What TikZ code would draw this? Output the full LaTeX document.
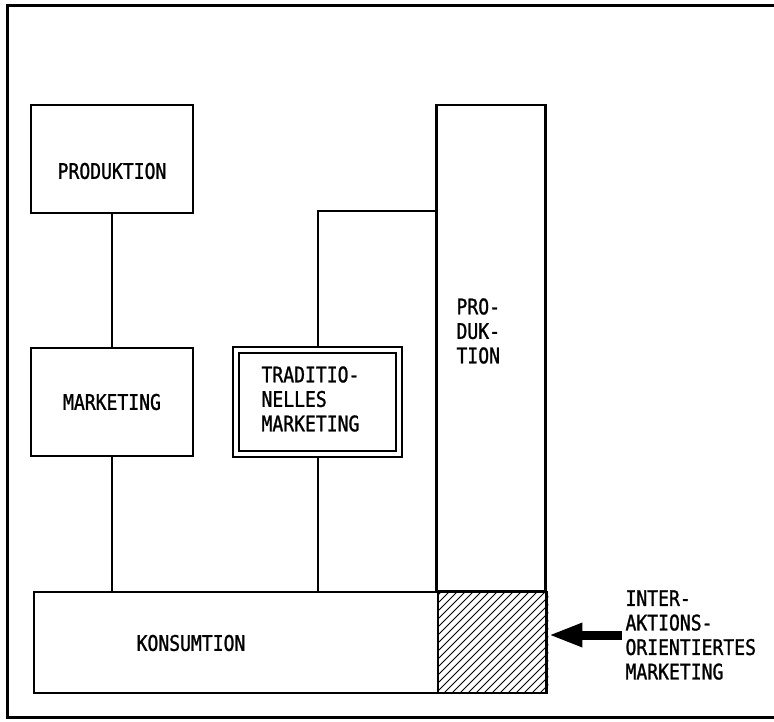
\documentclass[tikz,border=0pt]{standalone}
\usepackage{fontspec}
\newfontfamily\plotfont[FakeStretch=0.84,FakeBold=1.2]{DejaVu Sans Mono}
\usetikzlibrary{arrows.meta,backgrounds}
\begin{document}
\begin{tikzpicture}[x=1pt,y=-1pt,
  every node/.style={font=\plotfont\fontsize{21.5}{24.5}\selectfont},
  box/.style={draw,line width=2.4pt,fill=white,inner sep=0pt},
  link/.style={line width=2pt},
  frame/.style={line width=3pt}]
\useasboundingbox (0,0) rectangle (774,721);
% outer frame (open on the right)
\draw[frame] (774,5) -- (7,5) -- (7,717) -- (774,717);
% boxes
\node[box,minimum width=162pt,minimum height=108pt] (prod) at (112,159) {};
\node at (112,171) {PRODUKTION};
\node[box,minimum width=162pt,minimum height=108pt] (mkt) at (112,402) {MARKETING};
\node[box,minimum width=109pt,minimum height=486pt] (prodtall) at (491,348) {};
\node[align=left,anchor=west] (prodtxt) at (453,331) {PRO-\\DUK-\\TION};
\node[box,anchor=north west,minimum width=512pt,minimum height=101pt] (kons) at (33,591) {};
\node at (191,643) {KONSUMTION};
\node[draw,line width=2pt,double,double distance=3.5pt,fill=white,
      minimum width=163pt,minimum height=104pt,inner sep=0pt] (trad) at (317.5,402) {};
\node[align=left,anchor=west] at (258,399) {TRADITIO-\\NELLES\\MARKETING};
% hatched square
\node[box,fill=none,anchor=north west,minimum width=109pt,minimum height=101pt] (hatch) at (437,591) {};
\begin{scope}
\clip (hatch.south west) rectangle (hatch.north east);
\foreach \i in {-120,-112,...,120}
  \draw[line width=0.9pt] (437+\i,692) -- ++(120,-120);
\end{scope}
\node[box,fill=none,anchor=north west,minimum width=109pt,minimum height=101pt] at (437,591) {};
% label and arrow
\node[align=left,anchor=west] (lab) at (622,635) {INTER-\\AKTIONS-\\ORIENTIERTES\\MARKETING};
\draw[line width=9pt,-{Triangle[length=34pt,width=22pt]}] (lab.west) -- (hatch.east |- lab.west);
% connectors
\coordinate (j) at (317.5,211);
\begin{scope}[on background layer]
\draw[link] (prod) -- (mkt);
\draw[link] (mkt) -- (mkt |- kons.north);
\draw[link] (trad) -- (j) -- (prodtall.west |- j);
\draw[link] (trad) -- (trad |- kons.north);
\end{scope}
\end{tikzpicture}
\end{document}
